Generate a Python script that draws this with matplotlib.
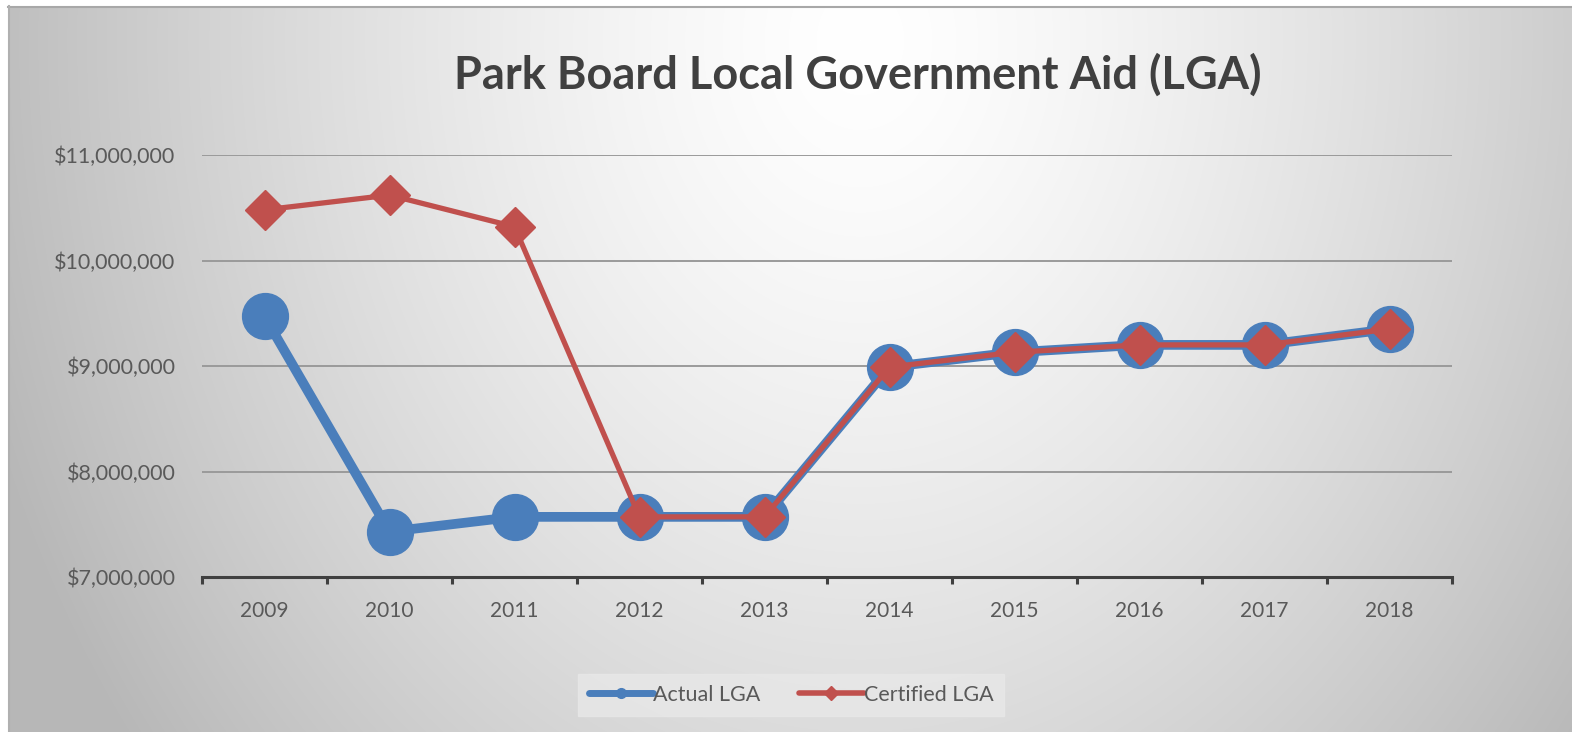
import numpy as np
import matplotlib
matplotlib.use("Agg")
import matplotlib.pyplot as plt
from matplotlib.ticker import FuncFormatter, FixedLocator
from matplotlib.lines import Line2D

years = ["2009", "2010", "2011", "2012", "2013", "2014", "2015", "2016", "2017", "2018"]
actual_lga = [9470000, 7430000, 7570000, 7570000, 7570000, 8990000, 9130000, 9200000, 9200000, 9350000]
certified_lga = [10480000, 10620000, 10320000, 7570000, 7570000, 8990000, 9130000, 9200000, 9200000, 9350000]
y_ticks = [7000000, 8000000, 9000000, 10000000, 11000000]

plt.rcParams['font.family'] = ['Lato', 'DejaVu Sans']

W, H = 1572, 732
fig = plt.figure(figsize=(W / 100, H / 100), dpi=100)

# background radial gradient
bg = fig.add_axes([0, 0, 1, 1], zorder=-10)
yy, xx = np.mgrid[0:H, 0:W]
r = np.sqrt(((xx - 860) / 920.0) ** 2 + ((yy - 40) / 1150.0) ** 2)
val = 1.0 - 0.28 * np.clip(r, 0, 1) ** 1.4
img = np.dstack([val, val, val])
img[:6, :, :] = 1.0
img[:, :8, :] = 1.0
bg.imshow(img, extent=[0, W, H, 0], aspect='auto', interpolation='bilinear')
bg.plot([8, W], [6.5, 6.5], color='#a8a8a8', lw=1.5)
bg.plot([8.5, 8.5], [6, H], color='#b0b0b0', lw=1.5)
bg.set_xlim(0, W)
bg.set_ylim(H, 0)
bg.axis('off')

ax = fig.add_axes([202 / W, 1 - 577 / H, 1250 / W, (577 - 155) / H])
ax.patch.set_alpha(0)
x = np.arange(len(years))

ax.plot(x, actual_lga, color='#4a7ebb', lw=7, marker='o', markersize=33,
        markerfacecolor='#4a7ebb', markeredgecolor='#4a7ebb', solid_capstyle='round', zorder=3)
ax.plot(x, certified_lga, color='#c0504d', lw=3.8, marker='D', markersize=20.5,
        markerfacecolor='#c0504d', markeredgecolor='#c0504d', zorder=4)

ax.set_xlim(-0.5, len(years) - 0.5)
ax.set_ylim(7000000, 11000000)
ax.set_yticks(y_ticks)
ax.yaxis.set_major_formatter(FuncFormatter(lambda v, p: "${:,.0f}".format(v)))
ax.set_xticks(x)
ax.set_xticklabels(years)
ax.xaxis.set_minor_locator(FixedLocator(np.arange(-0.5, len(years), 1.0)))

for yv in y_ticks[1:]:
    ax.axhline(yv, color='#9a9a9a', lw=1.4, zorder=1)

for s in ['top', 'right', 'left']:
    ax.spines[s].set_visible(False)
ax.spines['bottom'].set_color('#404040')
ax.spines['bottom'].set_linewidth(2.2)
ax.spines['bottom'].set_zorder(5)

ax.tick_params(axis='y', length=0, pad=19, labelsize=15.5, labelcolor='#595959')
ax.tick_params(axis='x', which='major', length=0, pad=17, labelsize=15, labelcolor='#595959')
ax.tick_params(axis='x', which='minor', length=5, width=2.2, color='#404040', direction='out')

fig.text(858 / W, 1 - 75 / H, "Park Board Local Government Aid (LGA)", ha='center', va='center',
         fontsize=32.5, fontweight='bold', color='#404040')

handles = [
    Line2D([], [], color='#4a7ebb', lw=5, marker='o', markersize=7, markerfacecolor='#4a7ebb',
           markeredgecolor='#4a7ebb', solid_capstyle='round'),
    Line2D([], [], color='#c0504d', lw=4, marker='D', markersize=7, markerfacecolor='#c0504d',
           markeredgecolor='#c0504d', solid_capstyle='round'),
]
leg = fig.legend(handles, ["Actual LGA", "Certified LGA"], loc='center', bbox_to_anchor=(791 / W, 1 - 695 / H),
                 ncol=2, frameon=True, fontsize=15.5, handlelength=3.0, handletextpad=0.0, columnspacing=1.8,
                 borderpad=0.5, fancybox=False)
leg.get_frame().set_facecolor('#e8e8e8')
leg.get_frame().set_edgecolor('#e8e8e8')
for t in leg.get_texts():
    t.set_color('#595959')

fig.savefig('out.png', dpi=100)
